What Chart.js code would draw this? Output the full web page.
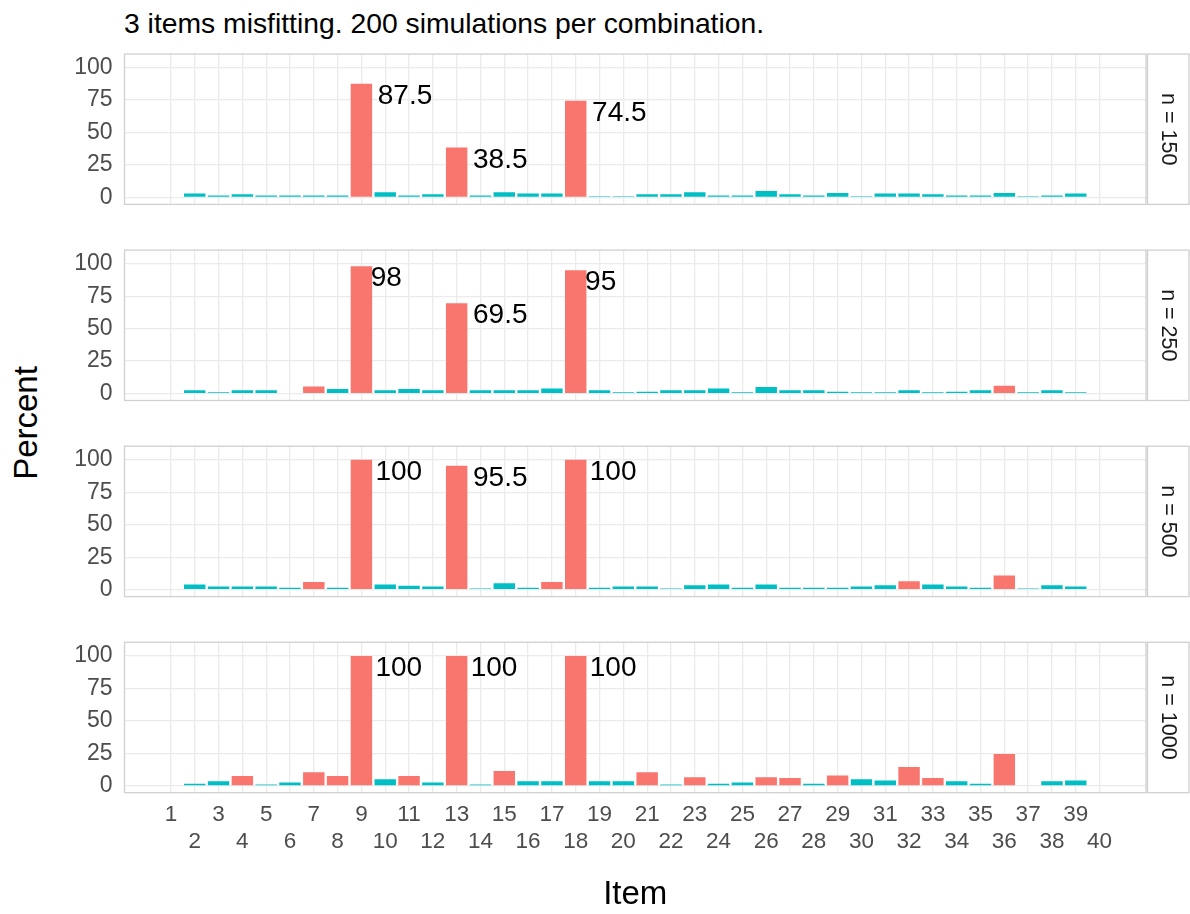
<!DOCTYPE html>
<html lang="en">
<head>
  <meta charset="UTF-8" />
  <title>Misfit detection by sample size</title>
  <script src="https://cdn.jsdelivr.net/npm/chart.js"></script>
  <style>
    body { margin: 0; background: #fff; font-family: "Liberation Sans", Arial, sans-serif; }
    #page { position: relative; width: 1190px; height: 914px; overflow: hidden; background: #fff; }
    canvas { position: absolute; left: 0; }
    #title { position: absolute; left: 124px; top: 9.4px; font-size: 28.3px; line-height: 28px; color: #000; white-space: nowrap; }
    #ylab { position: absolute; left: 25px; top: 423px; font-size: 33px; line-height: 33px; color: #000; white-space: nowrap;
            transform: translate(-50%, -50%) rotate(-90deg); }
  </style>
</head>
<body>
  <div id="page">
    <div id="title">3 items misfitting. 200 simulations per combination.</div>
    <div id="ylab">Percent</div>
    <canvas id="p150"></canvas>
    <canvas id="p250"></canvas>
    <canvas id="p500"></canvas>
    <canvas id="p1000"></canvas>
  </div>

  <script>
    // items on the x axis
    const items = [1, 2, 3, 4, 5, 6, 7, 8, 9, 10, 11, 12, 13, 14, 15, 16, 17, 18, 19, 20,
                   21, 22, 23, 24, 25, 26, 27, 28, 29, 30, 31, 32, 33, 34, 35, 36, 37, 38, 39, 40];
    const yTicks = [0, 12.5, 25, 37.5, 50, 62.5, 75, 87.5, 100];
    const misfitItems = [9, 13, 18];

    // percent of simulations flagging each item, per sample size
    const n150 = [null, 3, 1.5, 2.5, 1.5, 1.5, 1.5, 1.5, 87.5, 4, 1.5, 2.5, 38.5, 1.5, 4, 3, 3, 74.5, 1, 1,
                  2.5, 2.5, 4, 1.5, 1.5, 5, 2.5, 1.5, 3.5, 1, 3, 3, 2.5, 1.5, 1.5, 3.5, 1, 1.5, 3, null];
    const n250 = [null, 2.5, 1, 2.5, 2.5, 0, 5.5, 3.5, 98, 2.5, 3.5, 2.5, 69.5, 2.5, 2.5, 2.5, 4, 95, 2.5, 1,
                  1.5, 2.5, 2.5, 4, 1, 5, 2.5, 2.5, 1.5, 1, 1, 2.5, 1, 1.5, 2.5, 6, 1, 2.5, 1, null];
    const n500 = [null, 4, 2.5, 2.5, 2.5, 1.5, 6, 1.5, 100, 4, 3, 2.5, 95.5, 1, 5, 1.5, 6, 100, 1.5, 2.5,
                  2.5, 1, 3.5, 4, 1.5, 4, 1.5, 1.5, 1.5, 2.5, 3.5, 6.5, 4, 2.5, 1.5, 11, 1, 3.5, 2.5, null];
    const n1000 = [null, 1.5, 3.5, 7.5, 1, 2.5, 10.5, 7.5, 100, 5, 7.5, 2.5, 100, 1, 11.5, 3.5, 3.5, 100, 3.5, 3.5,
                   10.5, 1, 6.5, 1.5, 2.5, 6.5, 6, 1.5, 8, 5, 4, 14.5, 6, 3.5, 1.5, 24.5, 0, 3.5, 4, null];

    const FONT = '"Liberation Sans", Arial, sans-serif';
    const RED = '#F8766D';
    const TEAL = '#00BFC4';
    const GRID = '#ebebeb';
    const FRAME = '#d0d0d0';

    // draws panel frame, facet strip and value labels
    const panelDecor = {
      id: 'panelDecor',
      afterDraw(chart, args, opts) {
        const ctx = chart.ctx;
        const { left, top, right, bottom } = chart.chartArea;
        const xs = chart.scales.x, ys = chart.scales.y;

        ctx.save();
        ctx.font = '28px ' + FONT;
        ctx.fillStyle = '#000';
        ctx.textAlign = 'left';
        ctx.textBaseline = 'alphabetic';
        misfitItems.forEach(it => {
          const v = opts.values[it - 1];
          const txt = String(v);
          const w = ctx.measureText(txt).width;
          ctx.fillText(txt, xs.getPixelForValue(it) + 0.3 * w, ys.getPixelForValue(v) + 20);
        });

        ctx.strokeStyle = FRAME;
        ctx.lineWidth = 1.3;
        ctx.strokeRect(left, top, right - left, bottom - top);
        const sx = right + 1.5, sw = 1189 - sx;
        ctx.strokeRect(sx, top, sw, bottom - top);

        ctx.translate(sx + sw / 2, (top + bottom) / 2);
        ctx.rotate(Math.PI / 2);
        ctx.font = '21.5px ' + FONT;
        ctx.fillStyle = '#1a1a1a';
        ctx.textAlign = 'center';
        ctx.textBaseline = 'middle';
        ctx.fillText(opts.strip, 0, 0);
        ctx.restore();
      }
    };

    function noPad(s) {
      s.paddingTop = 0; s.paddingBottom = 0; s.paddingLeft = 0; s.paddingRight = 0;
    }

    function makePanel(id, values, strip, panelTop, isBottom) {
      const panelH = 150.4;
      const canvas = document.getElementById(id);
      const cTop = Math.floor(panelTop) - 2;
      const padTop = panelTop - cTop;
      const axisH = isBottom ? 914 - (panelTop + panelH) : 0;
      const cH = isBottom ? 914 - cTop : Math.ceil(padTop + panelH + 2);
      canvas.width = 1190;
      canvas.height = cH;
      canvas.style.top = cTop + 'px';

      return new Chart(canvas, {
        type: 'bar',
        data: {
          datasets: [{
            data: items.map((it, i) => ({ x: it, y: values[i] })),
            backgroundColor: values.map(v => v > 5 ? RED : TEAL),
            borderWidth: 0,
            barPercentage: 0.9,
            categoryPercentage: 1
          }]
        },
        options: {
          responsive: false,
          animation: false,
          layout: { padding: { top: padTop, bottom: isBottom ? 0 : cH - padTop - panelH, left: 0, right: 44 } },
          plugins: {
            legend: { display: false },
            tooltip: { enabled: false },
            panelDecor: { values: values, strip: strip }
          },
          scales: {
            x: {
              type: 'linear',
              min: -0.95,
              max: 41.95,
              offset: false,
              afterBuildTicks: s => { s.ticks = items.map(v => ({ value: v })); },
              afterFit: s => { s.height = axisH; noPad(s); },
              grid: { color: GRID, lineWidth: 1.3, drawTicks: false, offset: false },
              border: { display: false },
              ticks: {
                display: isBottom,
                autoSkip: false,
                maxRotation: 0,
                minRotation: 0,
                padding: 8.4,
                color: '#4d4d4d',
                font: { family: FONT, size: 22.5, lineHeight: 1.21 },
                callback: v => v % 2 === 1 ? String(v) : ['', String(v)]
              },
              title: {
                display: isBottom,
                text: 'Item',
                color: '#000',
                font: { family: FONT, size: 33 },
                padding: { top: 0, bottom: -1 }
              }
            },
            y: {
              min: -5.3,
              max: 110.5,
              afterFit: s => { s.width = 124.5; noPad(s); },
              afterBuildTicks: s => { s.ticks = yTicks.map(v => ({ value: v })); },
              grid: { color: GRID, lineWidth: 1.3, drawTicks: false },
              border: { display: false },
              ticks: {
                padding: 12,
                color: '#4d4d4d',
                font: { family: FONT, size: 23 },
                callback: v => v % 25 === 0 ? String(v) : ''
              }
            }
          }
        },
        plugins: [panelDecor]
      });
    }

    makePanel('p150', n150, 'n = 150', 54, false);
    makePanel('p250', n250, 'n = 250', 250.1, false);
    makePanel('p500', n500, 'n = 500', 446.2, false);
    makePanel('p1000', n1000, 'n = 1000', 642.3, true);
  </script>
</body>
</html>
